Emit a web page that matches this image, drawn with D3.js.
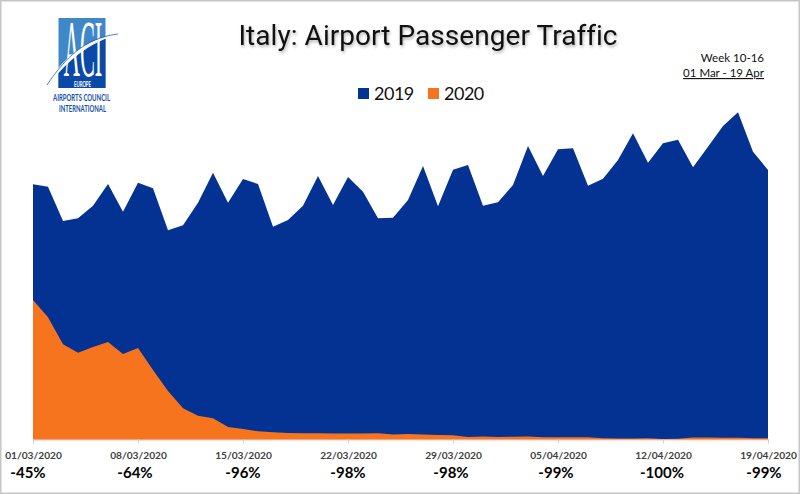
<!DOCTYPE html>
<html>
<head>
<meta charset="utf-8">
<script src="https://cdn.jsdelivr.net/npm/d3@7"></script>
<style>
  html, body { margin: 0; padding: 0; background: #fff; }
  svg { display: block; }
  text { font-family: Lato, "Open Sans", sans-serif; }
</style>
</head>
<body>
<svg id="chart" width="800" height="494"></svg>
<script>
// no y axis in the original so units are just an index
const values2019 = [255, 252.6, 218.3, 221, 233.6, 255.3, 227.6, 256.6, 251, 209,
    214, 236.6, 266.6, 236.6, 260.3, 255.3, 212.6, 219.3, 233.6, 263.3,
    234.3, 262.3, 247.6, 221, 221.6, 239.3, 273.3, 233, 269.6, 274.3,
    233.6, 237, 254.3, 293.3, 263.3, 290, 291, 253.6, 260.6, 279.3,
    306, 276.6, 296, 299.6, 272, 292.6, 313.3, 327, 287.6, 269.3];

const values2020 = [139.3, 122, 95, 86.6, 92.3, 97.3, 85.3, 91.3, 69.3, 48.3,
    31, 23.6, 21, 12.3, 10.3, 8, 7, 6.3, 6.1, 6,
    5.7, 5.9, 5.8, 6.1, 4.9, 5.3, 4.7, 4.3, 4, 2.3,
    2.7, 2.3, 2.5, 2.9, 2, 2, 2, 2, 1, 0.8,
    0.7, 1, 0.3, 0.6, 1.8, 1.8, 1.5, 1.5, 1, 1];

const tickLabels = ["01/03/2020", "08/03/2020", "15/03/2020", "22/03/2020",
    "29/03/2020", "05/04/2020", "12/04/2020", "19/04/2020"];
const changeLabels = ["-45%", "-64%", "-96%", "-98%", "-98%", "-99%", "-100%", "-99%"];
const seriesNames = ["2019", "2020"];

const BLUE = "#043293";
const ORANGE = "#f7741f";

const parseDay = d3.utcParse("%d/%m/%Y");
const formatDay = d3.utcFormat("%d/%m/%Y");
const firstDay = parseDay(tickLabels[0]);
const lastDay = parseDay(tickLabels[tickLabels.length - 1]);
const days = d3.utcDay.range(firstDay, d3.utcDay.offset(lastDay, 1));

const svg = d3.select("#chart");

// grey frame around the slide
svg.append("rect")
    .attr("x", 0.75).attr("y", 0.75)
    .attr("width", 798.5).attr("height", 492.5)
    .attr("fill", "#fff")
    .attr("stroke", "#c6c6c6")
    .attr("stroke-width", 1.5);

let x = d3.scaleUtc().domain([firstDay, lastDay]).range([33, 768]);
let y = d3.scaleLinear().domain([0, 330]).range([439.3, 109.3]);

function drawArea(values, color) {
    let area = d3.area()
        .x((d, i) => x(days[i]))
        .y0(y(0))
        .y1(d => y(d));
    svg.append("path")
        .datum(values)
        .attr("fill", color)
        .attr("d", area);
}
drawArea(values2019, BLUE);
drawArea(values2020, ORANGE);

// axis, labels sit under ticks
let xAxis = svg.append("g")
    .attr("transform", `translate(0, ${y(0)})`)
    .call(d3.axisBottom(x)
        .tickValues(tickLabels.map(parseDay))
        .tickFormat(formatDay)
        .tickSize(4)
        .tickPadding(7));
xAxis.select(".domain").attr("stroke", "#f2a678").attr("stroke-width", 1);
xAxis.selectAll(".tick line").attr("stroke", "#d0d0d0");
xAxis.selectAll(".tick text")
    .attr("fill", "#404040")
    .attr("dy", "0.85em")
    .style("font-size", "10.2px")
    .style("font-family", "Lato, sans-serif")
    .style("font-weight", "700");

// the percent labels are hand placed on the slide, not quite on the ticks
const changeNudge = [-5, -3, 0, 0, -2, -2, -1, -4];
svg.append("g").selectAll("text")
    .data(changeLabels)
    .enter().append("text")
    .attr("x", (d, i) => x(parseDay(tickLabels[i])) + changeNudge[i])
    .attr("y", 478)
    .attr("text-anchor", "middle")
    .attr("fill", "#000")
    .style("font-size", "15px")
    .style("font-weight", "700")
    .text(d => d);

// title
svg.append("text")
    .attr("x", 428).attr("y", 45)
    .attr("text-anchor", "middle")
    .attr("fill", "#111")
    .style("font-family", "Roboto, sans-serif")
    .style("font-size", "28px")
    .style("letter-spacing", "0.05px")
    .style("filter", "drop-shadow(1px 2px 1.5px rgba(0,0,0,0.3))")
    .text("Italy: Airport Passenger Traffic");

// week note, top right
svg.append("text")
    .attr("x", 764).attr("y", 62)
    .attr("text-anchor", "end")
    .attr("fill", "#111")
    .style("font-size", "11.5px")
    .text("Week 10-16");
svg.append("text")
    .attr("x", 764).attr("y", 77)
    .attr("text-anchor", "end")
    .attr("fill", "#111")
    .style("font-size", "11.5px")
    .style("text-decoration", "underline")
    .text("01 Mar - 19 Apr");

// legend
let legend = svg.append("g");
let legendColor = d3.scaleOrdinal().domain(seriesNames).range([BLUE, ORANGE]);
let legendX = d3.scalePoint().domain(seriesNames).range([358, 428]);
legend.selectAll("rect")
    .data(seriesNames)
    .enter().append("rect")
    .attr("x", d => legendX(d))
    .attr("y", 88)
    .attr("width", 11)
    .attr("height", 11)
    .attr("fill", d => legendColor(d));
legend.selectAll("text")
    .data(seriesNames)
    .enter().append("text")
    .attr("x", d => legendX(d) + 16)
    .attr("y", 100)
    .attr("fill", "#111")
    .style("font-size", "18px")
    .style("letter-spacing", "-0.5px")
    .text(d => d);

// ACI logo, rough redraw with plain shapes
let logo = svg.append("g");
logo.append("clipPath").attr("id", "logo-clip")
    .append("rect").attr("x", 58.5).attr("y", 18).attr("width", 47).attr("height", 70);
logo.append("rect")
    .attr("x", 58.5).attr("y", 18).attr("width", 47).attr("height", 70)
    .attr("fill", "#3f87c9");
logo.append("path")
    .attr("clip-path", "url(#logo-clip)")
    .attr("d", "M47,85 C65,58 85,42 118,34 L118,95 L47,95 Z")
    .attr("fill", "#0a49a5");
logo.append("text")
    .attr("transform", "translate(83, 76) scale(0.28, 1)")
    .attr("text-anchor", "middle")
    .attr("fill", "#fff")
    .style("font-family", "'Liberation Serif', serif")
    .style("font-size", "80px")
    .text("ACI");
logo.append("path")
    .attr("d", "M47,85 C63,58 85,40 118,34 C88,42 68,60 47,85 Z")
    .attr("fill", "#fff")
    .attr("stroke", "#fff")
    .attr("stroke-width", 1.2);
logo.append("path")
    .attr("d", "M47,85 C65,58 85,38 118,34")
    .attr("fill", "none")
    .attr("stroke", "#0a49a5")
    .attr("stroke-width", 0.7);
logo.append("text")
    .attr("x", 82.5).attr("y", 86.5)
    .attr("text-anchor", "middle")
    .attr("fill", "#fff")
    .attr("textLength", 17)
    .attr("lengthAdjust", "spacingAndGlyphs")
    .style("font-size", "6.5px")
    .style("font-weight", "700")
    .text("EUROPE");
logo.append("text")
    .attr("x", 81.5).attr("y", 100.5)
    .attr("text-anchor", "middle")
    .attr("fill", "#1450a8")
    .attr("textLength", 57)
    .attr("lengthAdjust", "spacingAndGlyphs")
    .style("font-size", "8.5px")
    .style("font-weight", "700")
    .text("AIRPORTS COUNCIL");
logo.append("text")
    .attr("x", 82.5).attr("y", 111.5)
    .attr("text-anchor", "middle")
    .attr("fill", "#1450a8")
    .attr("textLength", 47)
    .attr("lengthAdjust", "spacingAndGlyphs")
    .style("font-size", "8.5px")
    .style("font-weight", "700")
    .text("INTERNATIONAL");
</script>
</body>
</html>
